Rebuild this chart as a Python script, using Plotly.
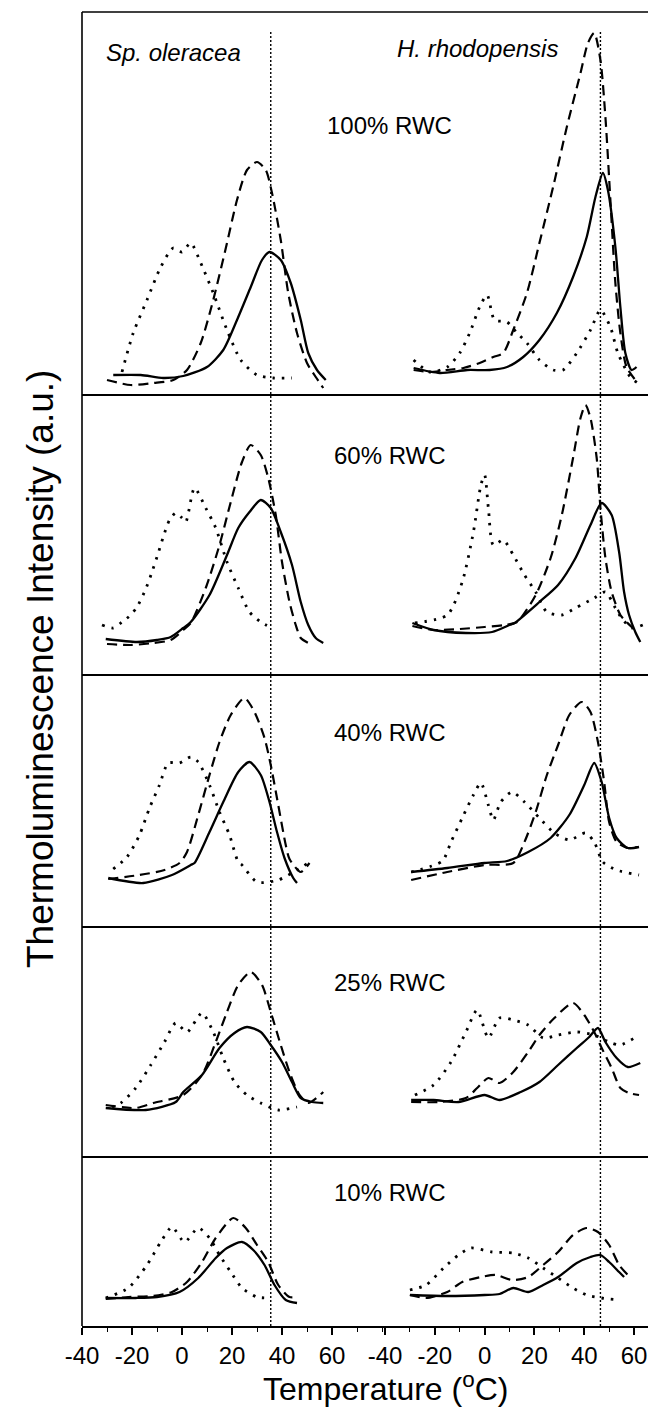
import plotly.graph_objects as go
from plotly.subplots import make_subplots

# temperature (deg C), intensity (a.u.)
# Sp. oleracea
so100_solid = [(-27.5, 17), (-16.5, 17), (-7.5, 14), (0.5, 16), (10, 25), (16.5, 42), (22, 72), (27.5, 105),
               (32, 132), (35, 140), (39.5, 132), (43.5, 109), (47.5, 72), (50.5, 39), (54, 22), (57.5, 12)]
so100_dash = [(-30, 12), (-20.5, 7), (-11.5, 9), (-3.5, 12), (2, 22), (7.5, 49), (12.5, 92), (18, 149), (22, 192),
              (26, 222), (30, 230), (33.5, 222), (36, 199), (39.5, 152), (42.5, 99), (46, 59), (50, 29), (53.5, 15),
              (56.5, 4)]
so100_dot = [(-24, 20), (-19.5, 59), (-14, 92), (-8.5, 125), (-3.5, 144), (0, 140), (3.5, 149), (7.5, 129),
             (12.5, 99), (18, 62), (23.5, 32), (30, 17), (36.5, 14), (44, 14)]

so60_solid = [(-30.5, 36), (-18, 33), (-10, 35), (-4.5, 38), (0.5, 47), (3.5, 53), (11, 80), (18, 120), (22.5, 147),
              (27, 163), (31.5, 175), (35.5, 167), (39.5, 143), (44, 110), (47.5, 73), (50.5, 50), (53.5, 37),
              (56.5, 32)]
so60_dash = [(-30, 31), (-20.5, 30), (-11.5, 32), (-4.5, 35), (0.5, 45), (3.5, 52), (9.5, 87), (15, 130),
             (19.5, 173), (24, 213), (27.5, 230), (31.5, 220), (34.5, 197), (37.5, 160), (40, 113), (43, 73),
             (45.5, 50), (47.5, 37), (50.5, 32)]
so60_dot = [(-32, 50), (-27.5, 47), (-24, 53), (-20.5, 60), (-18, 68), (-14.5, 86), (-12, 103), (-9.5, 122),
            (-7.5, 138), (-5, 155), (-2.5, 162), (0, 157), (1.5, 153), (5, 187), (9.5, 167), (13.5, 147), (18, 113),
            (22.5, 87), (27, 63), (31.5, 53), (36, 47)]

so40_solid = [(-29.5, 49), (-15.5, 44), (-4, 52), (3.5, 62), (5, 64), (11, 95), (16.5, 125), (22.5, 155), (27, 165),
              (31.5, 152), (35, 125), (38, 95), (41, 69), (44.5, 49), (46, 44)]
so40_dash = [(-29.5, 48), (-17, 52), (-7, 57), (-1, 64), (2, 75), (6.5, 112), (11, 152), (15, 185), (19.5, 212),
             (25, 229), (29, 215), (33, 189), (35.5, 162), (38.5, 122), (41.5, 82), (43, 68), (47.5, 55), (51, 64)]
so40_dot = [(-27.5, 58), (-22, 70), (-17, 92), (-13, 119), (-9, 142), (-5.5, 164), (-1, 164), (3.5, 170), (6.5, 165),
            (11, 142), (15, 115), (19, 92), (22.5, 65), (24, 62), (30, 45), (38.5, 47), (50.5, 64)]

so25_solid = [(-30.5, 49), (-14.5, 47), (-2.5, 55), (0.5, 65), (8, 82), (15, 109), (21, 124), (26, 130), (31.5, 125),
              (35.5, 112), (40, 95), (44, 75), (47.5, 59), (52, 55), (56.5, 54)]
so25_dash = [(-30.5, 52), (-18.5, 49), (-11.5, 54), (0.5, 62), (8, 82), (13.5, 115), (18, 145), (22.5, 172),
             (27.5, 185), (32, 172), (35.5, 145), (39.5, 112), (43, 85), (47, 62), (50.5, 54), (56.5, 65)]
so25_dot = [(-28, 50), (-24.5, 54), (-18.5, 69), (-12.5, 92), (-7, 115), (-2.5, 134), (2, 125), (8, 144), (12.5, 125),
            (16.5, 99), (21, 75), (26, 62), (31.5, 54), (38.5, 47), (46, 50)]

so10_solid = [(-30.5, 28), (-18.5, 28), (-10, 29), (-1, 34), (6.5, 48), (13.5, 68), (18, 78), (24, 84), (28.5, 76),
              (33, 61), (37, 41), (41.5, 26), (46, 23)]
so10_dash = [(-30.5, 27), (-21.5, 29), (-11.5, 30), (-4, 34), (2, 44), (8, 64), (13.5, 88), (20.5, 108), (25.5, 98),
             (30, 81), (34.5, 64), (38.5, 41), (43, 29), (46, 29)]
so10_dot = [(-30.5, 28), (-21.5, 38), (-14, 61), (-8.5, 84), (-4, 99), (1, 84), (6.5, 98), (11, 88), (15, 71),
            (19.5, 54), (24, 38), (30, 29), (34.5, 28)]

# H. rhodopensis
hr100_solid = [(-28.5, 24), (-18, 19), (-7, 22), (2, 22), (9, 25), (15.5, 35), (22, 52), (29, 79), (35.5, 115),
               (41, 155), (44.5, 195), (47.5, 219), (49.5, 202), (52.5, 145), (54.5, 85), (56.5, 39), (59, 22),
               (61, 25)]
hr100_dash = [(-28.5, 22), (-22, 20), (-15, 22), (-8.5, 24), (-2, 29), (3.5, 35), (7.5, 39), (11.5, 62), (17, 99),
              (22, 149), (27.5, 205), (33, 265), (38.5, 319), (41.5, 349), (44, 359), (46.5, 332), (48.5, 275),
              (50.5, 192), (52.5, 109), (54.5, 59), (57, 25), (61.5, 9)]
hr100_dot = [(-28.5, 32), (-22, 20), (-15, 25), (-10, 39), (-6, 59), (-2, 85), (1, 97), (4, 72), (9, 70), (13, 59),
             (17, 49), (22, 32), (27.5, 22), (31.5, 22), (37, 39), (42.5, 62), (46.5, 82), (50.5, 65), (53.5, 39),
             (58.5, 15), (61.5, 9)]

hr60_solid = [(-29, 52), (-20.5, 45), (-7.5, 42), (3, 43), (10, 50), (12, 52), (22, 73), (29.5, 90), (36.5, 117),
              (42.5, 150), (47, 172), (51, 160), (54, 123), (56, 83), (58, 60), (60.5, 43), (62.5, 33)]
hr60_dash = [(-29, 49), (-20.5, 45), (-10, 46), (0, 48), (8, 50), (13, 53), (20.5, 80), (26.5, 117), (31, 160),
             (35.5, 217), (38.5, 257), (40.5, 270), (42.5, 257), (45, 217), (46.5, 167), (48.5, 117), (51, 83),
             (54.5, 60), (57, 53), (59.5, 47)]
hr60_dot = [(-28, 52), (-15, 60), (-9, 93), (-4.5, 143), (-1.5, 190), (0, 200), (1.5, 167), (3.5, 130), (7.5, 135),
            (11.5, 120), (16, 100), (20.5, 83), (25, 63), (31, 60), (36.5, 67), (44, 77), (48.5, 83), (52.5, 67),
            (55, 57), (59, 47), (63.5, 50)]

hr40_solid = [(-29.5, 55), (-15, 59), (0, 64), (9, 66), (17.5, 75), (26.5, 89), (34, 112), (40, 142), (44, 164),
              (47, 145), (50, 109), (53, 89), (57.5, 79), (62, 80)]
hr40_dash = [(-29.5, 47), (-15, 55), (0, 62), (11.5, 64), (16, 85), (20.5, 115), (25, 152), (29.5, 182), (34, 212),
             (39, 225), (42.5, 215), (45.5, 185), (48, 145), (50, 105), (53, 85), (57.5, 79), (61.5, 80)]
hr40_dot = [(-29.5, 55), (-17, 66), (-13.5, 85), (-9, 109), (-4.5, 132), (-1.5, 144), (1.5, 122), (3.5, 107),
            (6.5, 125), (11, 135), (16, 125), (22, 109), (28, 94), (34, 87), (40.5, 94), (44, 85), (47.5, 65),
            (53, 57), (62, 52)]

hr25_solid = [(-29.5, 57), (-20.5, 57), (-10.5, 55), (0, 62), (6, 57), (14.5, 65), (22, 75), (29.5, 92), (37, 109),
              (42, 120), (45.5, 129), (48.5, 115), (53, 99), (57.5, 90), (62.5, 94)]
hr25_dash = [(-29.5, 55), (-18, 55), (-7.5, 59), (-3, 69), (1.5, 79), (6, 74), (11.5, 85), (17.5, 105), (22, 122),
             (28, 139), (35.5, 154), (40, 142), (44, 125), (47, 109), (51, 89), (54.5, 69), (58, 64), (62, 62)]
hr25_dot = [(-28, 62), (-20.5, 72), (-13.5, 95), (-7.5, 125), (-3, 147), (1.5, 119), (6, 139), (11.5, 137),
            (17.5, 132), (23.5, 119), (29.5, 122), (37, 125), (44, 122), (50, 115), (54.5, 112), (62, 122)]

hr10_solid = [(-30, 31), (-15, 30), (0, 31), (6, 32), (11.5, 38), (17.5, 34), (23.5, 41), (29.5, 49), (37, 63),
              (42.5, 69), (46.5, 71), (50, 64), (54, 54), (56, 49)]
hr10_dash = [(-30, 31), (-23.5, 28), (-15, 34), (-9, 44), (-1.5, 49), (4.5, 51), (11, 46), (17.5, 49), (23.5, 61),
             (29.5, 74), (35.5, 91), (41, 98), (45.5, 94), (50, 81), (54, 61), (57.5, 51)]
hr10_dot = [(-30, 36), (-23.5, 41), (-16.5, 58), (-10.5, 71), (-5.5, 78), (3, 74), (11.5, 73), (17.5, 68),
            (23.5, 58), (29.5, 48), (35.5, 38), (41, 31), (47, 28), (54.5, 26)]

rwc_labels = ['100% RWC', '60% RWC', '40% RWC', '25% RWC', '10% RWC']
panel_ranges = [(-3, 380), (0, 280), (0, 252), (0, 230), (0, 169)]
label_heights = [267, 220, 195, 175, 134]
species = ['Sp. oleracea', 'H. rhodopensis']
ref_temps = [35.5, 46.5]
tick_vals = [-40, -20, 0, 20, 40, 60]
tick_text = ['-40', '-20', '0', '20', '40', '60']

curves = [
    [(so100_solid, so100_dash, so100_dot), (hr100_solid, hr100_dash, hr100_dot)],
    [(so60_solid, so60_dash, so60_dot), (hr60_solid, hr60_dash, hr60_dot)],
    [(so40_solid, so40_dash, so40_dot), (hr40_solid, hr40_dash, hr40_dot)],
    [(so25_solid, so25_dash, so25_dot), (hr25_solid, hr25_dash, hr25_dot)],
    [(so10_solid, so10_dash, so10_dot), (hr10_solid, hr10_dash, hr10_dot)],
]

FONT = 'Liberation Sans, Arial, sans-serif'
styles = [dict(width=2.3, dash='solid'),
          dict(width=2.2, dash='10px,6px'),
          dict(width=2.8, dash='2.5px,7px')]

# page body adds an 8px margin, so the figure is drawn 8px smaller and shifted
fig = make_subplots(rows=5, cols=2, horizontal_spacing=0, vertical_spacing=0,
                    row_heights=[383, 280, 252, 230, 169], column_widths=[303, 263])

for r, row in enumerate(curves):
    for c, group in enumerate(row):
        for pts, st in zip(group, styles):
            fig.add_trace(go.Scatter(x=[p[0] for p in pts], y=[p[1] for p in pts],
                                     mode='lines',
                                     line=dict(color='black', width=st['width'], dash=st['dash'],
                                               shape='spline', smoothing=0.7),
                                     showlegend=False, hoverinfo='skip'),
                          row=r + 1, col=c + 1)

x_ranges = [[-40, 81.2], [-40, 65.6]]
for r in range(5):
    for c in range(2):
        bottom = r == 4
        fig.update_xaxes(range=x_ranges[c], showgrid=False, zeroline=False,
                         showline=bottom, linecolor='black', linewidth=2,
                         ticks='outside' if bottom else '', ticklen=7, tickwidth=1.6, tickcolor='black',
                         tickvals=tick_vals, ticktext=tick_text, showticklabels=bottom,
                         tickfont=dict(family=FONT, size=24, color='black'),
                         minor=dict(dtick=10, tick0=0, ticks='outside' if bottom else '', ticklen=4,
                                    tickwidth=1.3, tickcolor='black'),
                         row=r + 1, col=c + 1)
        fig.update_yaxes(range=panel_ranges[r], showgrid=False, zeroline=False, showline=False,
                         showticklabels=False, ticks='', row=r + 1, col=c + 1)

# frame and panel dividers
shapes = [dict(type='line', xref='paper', yref='paper', x0=0, x1=1, y0=1, y1=1,
               line=dict(color='black', width=1.6)),
          dict(type='line', xref='paper', yref='paper', x0=0, x1=0, y0=0, y1=1,
               line=dict(color='black', width=1.6))]
for r in range(4):
    ax = fig.layout['yaxis' + str(r * 2 + 1)] if r else fig.layout.yaxis
    y0 = ax.domain[0]
    shapes.append(dict(type='line', xref='paper', yref='paper', x0=0, x1=1, y0=y0, y1=y0,
                       line=dict(color='black', width=2)))
for c, t in enumerate(ref_temps):
    shapes.append(dict(type='line', xref='x' + str(9 + c), yref='paper', x0=t, x1=t, y0=0, y1=0.986,
                       line=dict(color='black', width=1.4, dash='2px,2px')))

annotations = []
for r, lab in enumerate(rwc_labels):
    yname = 'y' if r == 0 else 'y' + str(r * 2 + 1)
    annotations.append(dict(text=lab, xref='paper', yref=yname, x=0.544, y=label_heights[r],
                            showarrow=False, xanchor='center', yanchor='middle',
                            font=dict(family=FONT, size=24, color='black')))
annotations.append(dict(text='<i>' + species[0] + '</i>', xref='x', yref='y', x=-3.5, y=340,
                        showarrow=False, xanchor='center', yanchor='middle',
                        font=dict(family=FONT, size=24, color='black')))
annotations.append(dict(text='<i>' + species[1] + '</i>', xref='x2', yref='y2', x=-2.7, y=344,
                        showarrow=False, xanchor='center', yanchor='middle',
                        font=dict(family=FONT, size=24, color='black')))
annotations.append(dict(text='Thermoluminescence Intensity (a.u.)', xref='paper', yref='paper',
                        x=-0.0742, y=0.5, textangle=-90, showarrow=False,
                        xanchor='center', yanchor='middle',
                        font=dict(family=FONT, size=37, color='black')))
annotations.append(dict(text='Temperature (<sup>o</sup>C)', xref='paper', yref='paper',
                        x=0.537, y=-0.0465, showarrow=False, xanchor='center', yanchor='middle',
                        font=dict(family=FONT, size=32, color='black')))

fig.update_layout(width=640, height=1403, autosize=False,
                  margin=dict(l=74, r=0, t=4, b=85),
                  plot_bgcolor='white', paper_bgcolor='white',
                  shapes=shapes, annotations=annotations, showlegend=False)

fig.write_html("out.html")
